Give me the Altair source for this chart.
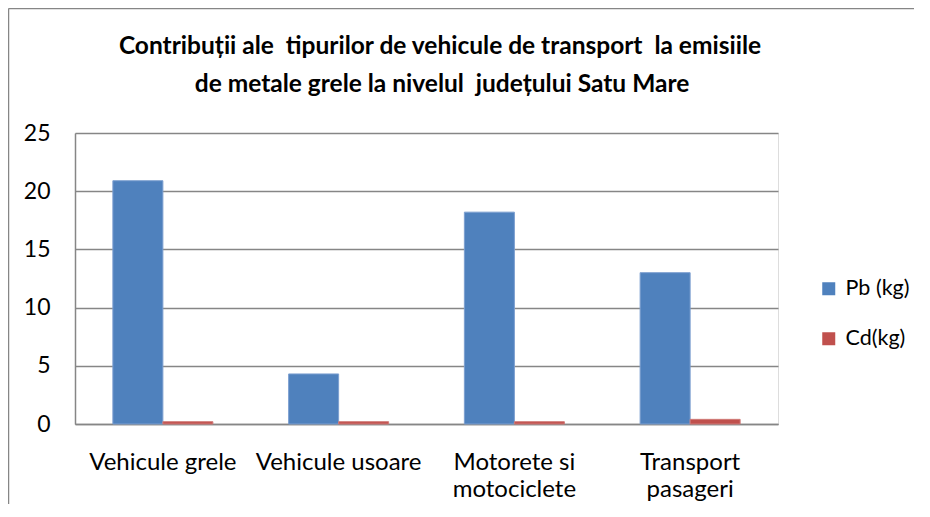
import altair as alt
import pandas as pd

categories = ["Vehicule grele", "Vehicule usoare", "Motorete si\nmotociclete", "Transport\npasageri"]
series = ["Pb (kg)", "Cd(kg)"]
pb_values = [20.9, 4.3, 18.2, 13.0]
cd_values = [0.2, 0.2, 0.2, 0.4]
colors = ["#4F81BD", "#C0504D"]
title_lines = [
    "Contribuții ale\u00a0 tipurilor de vehicule de transport\u00a0 la emisiile",
    "de metale grele la nivelul\u00a0 județului Satu Mare",
]

rows = []
for c, p, d in zip(categories, pb_values, cd_values):
    rows.append({"cat": c, "series": series[0], "value": p})
    rows.append({"cat": c, "series": series[1], "value": d})
df = pd.DataFrame(rows)

FONT = "Lato"
GRID = "#868686"

bars = alt.Chart(df).mark_bar(strokeWidth=1).encode(
    x=alt.X(
        "cat:N",
        sort=categories,
        scale=alt.Scale(paddingInner=0.431, paddingOuter=0.2155),
        axis=alt.Axis(
            title=None,
            labelAngle=0,
            labelExpr="split(datum.label, '\\n')",
            labelFont=FONT,
            labelFontSize=24,
            labelColor="#000000",
            labelPadding=26,
            labelLineHeight=27,
            ticks=False,
            domainColor=GRID,
            domainWidth=1.5,
            grid=False,
        ),
    ),
    xOffset=alt.XOffset("series:N", sort=series),
    y=alt.Y(
        "value:Q",
        scale=alt.Scale(domain=[0, 25], nice=False),
        axis=alt.Axis(
            title=None,
            values=[0, 5, 10, 15, 20, 25],
            labelFont=FONT,
            labelFontSize=23,
            labelColor="#000000",
            labelPadding=25,
            ticks=False,
            domainColor=GRID,
            domainWidth=1.5,
            gridColor=GRID,
            gridWidth=1.5,
        ),
    ),
    color=alt.Color(
        "series:N",
        sort=series,
        scale=alt.Scale(domain=series, range=colors),
        legend=alt.Legend(
            title=None,
            orient="none",
            legendX=743,
            legendY=145,
            symbolType="square",
            symbolSize=169,
            symbolStrokeWidth=0,
            labelFont=FONT,
            labelFontSize=21.5,
            labelColor="#000000",
            labelOffset=6,
            rowPadding=27,
        ),
    ),
    stroke=alt.Stroke(
        "series:N",
        sort=series,
        scale=alt.Scale(domain=series, range=["#7C9FD0", "#D07A78"]),
        legend=None,
    ),
)

one = pd.DataFrame({"a": [0]})
top_border = alt.Chart(one).mark_rule(color=GRID, strokeWidth=1.5).encode(
    x=alt.value(-66.5), x2=alt.value(860), y=alt.value(-124.5)
)
left_border = alt.Chart(one).mark_rule(color=GRID, strokeWidth=1.5).encode(
    x=alt.value(-66.5), y=alt.value(-124.5), y2=alt.value(380)
)
title1 = alt.Chart(one).mark_text(
    font=FONT, fontSize=24.5, fontWeight="bold", color="#000000",
    align="center", baseline="alphabetic",
).encode(x=alt.value(365), y=alt.value(-79), text=alt.value(title_lines[0]))
title2 = alt.Chart(one).mark_text(
    font=FONT, fontSize=24.5, fontWeight="bold", color="#000000",
    align="center", baseline="alphabetic",
).encode(x=alt.value(367), y=alt.value(-41), text=alt.value(title_lines[1]))

chart = alt.layer(bars, top_border, left_border, title1, title2).properties(
    width=703,
    height=291,
    autosize=alt.AutoSizeParams(type="none"),
    padding={"left": 67, "top": 125, "right": 136, "bottom": 80},
).configure_view(stroke=None).configure(background="#ffffff")

chart.save("out.html", embed_options={"renderer": "svg", "actions": False})
